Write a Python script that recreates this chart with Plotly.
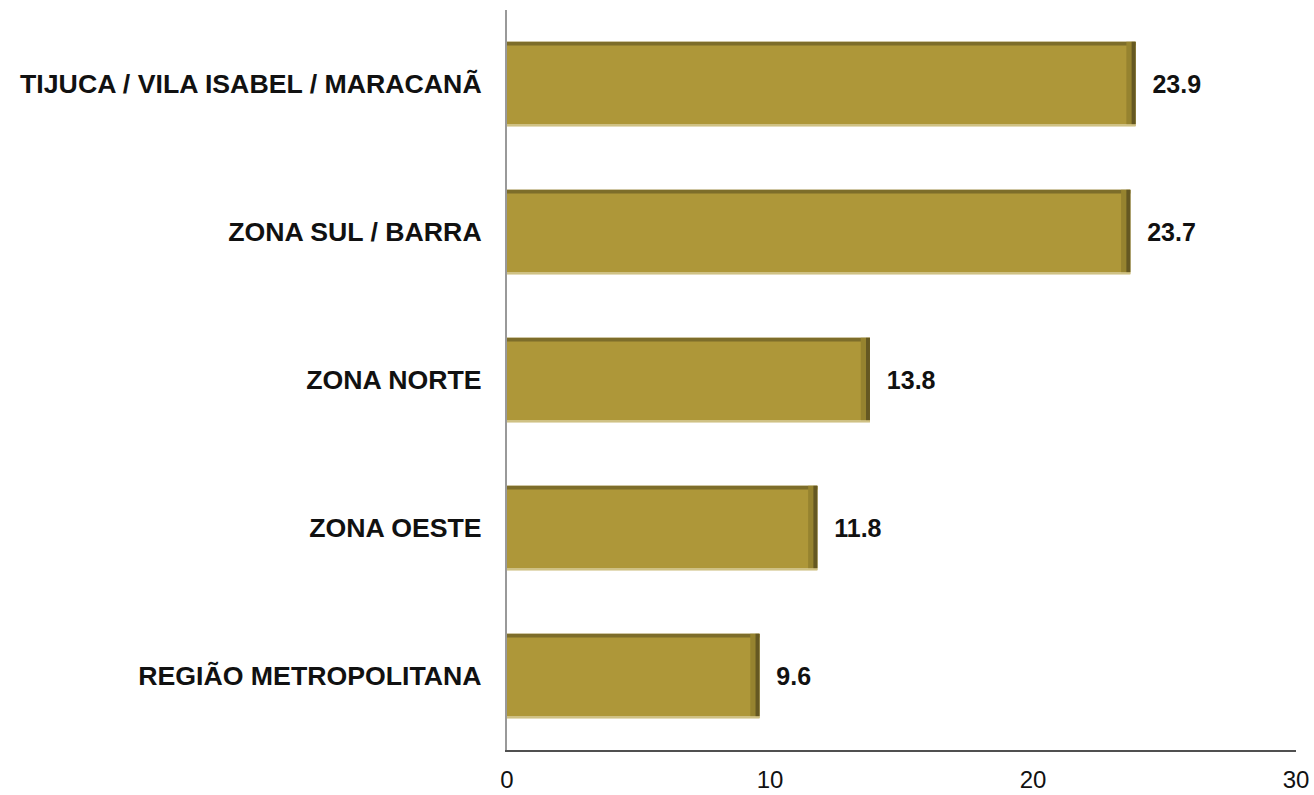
import plotly.graph_objects as go

categories = ["TIJUCA / VILA ISABEL / MARACANÃ", "ZONA SUL / BARRA", "ZONA NORTE", "ZONA OESTE", "REGIÃO METROPOLITANA"]
values = [23.9, 23.7, 13.8, 11.8, 9.6]
x_ticks = [0, 10, 20, 30]

BAR_W = 0.57
fig = go.Figure()
# main bars
fig.add_trace(go.Bar(
    y=categories, x=values, orientation="h",
    marker=dict(color="#ae9739", line=dict(width=0)),
    width=BAR_W,
    text=["  " + f"{v:.1f}" for v in values],
    textposition="outside",
    textfont=dict(family="Liberation Sans, Arial", size=25, color="#111111", weight="bold"),
    cliponaxis=False, hoverinfo="skip",
))
# shading: top dark band
fig.add_trace(go.Bar(
    y=categories, x=values, orientation="h",
    marker=dict(color="#7d6d2a", line=dict(width=0)),
    width=0.025, offset=-BAR_W / 2, hoverinfo="skip",
))
# shading: bottom light edge
fig.add_trace(go.Bar(
    y=categories, x=values, orientation="h",
    marker=dict(color="#cfc184", line=dict(width=0)),
    width=0.014, offset=BAR_W / 2 - 0.014, hoverinfo="skip",
))
# shading: right dark edge (two layers)
fig.add_trace(go.Bar(
    y=categories, x=[0.35] * len(values), base=[v - 0.35 for v in values], orientation="h",
    marker=dict(color="#96832f", line=dict(width=0)),
    width=BAR_W - 0.014, offset=-BAR_W / 2, hoverinfo="skip",
))
fig.add_trace(go.Bar(
    y=categories, x=[0.15] * len(values), base=[v - 0.15 for v in values], orientation="h",
    marker=dict(color="#655822", line=dict(width=0)),
    width=BAR_W - 0.014, offset=-BAR_W / 2, hoverinfo="skip",
))

fig.update_layout(
    width=1314, height=795,
    margin=dict(l=507, r=18, t=10, b=45),
    barmode="overlay",
    paper_bgcolor="white", plot_bgcolor="white",
    showlegend=False,
    font=dict(family="Liberation Sans, Arial", color="#111111"),
    xaxis=dict(range=[0, 30], tickvals=x_ticks, showgrid=False, zeroline=False,
               showline=True, linecolor="#505050", linewidth=2, automargin=False,
               tickfont=dict(size=24), ticks="", ticklabelstandoff=7,
               ticklabeloverflow="allow"),
    yaxis=dict(autorange="reversed", showgrid=False, zeroline=False, automargin=False,
               showline=True, linecolor="#999999", linewidth=2,
               tickfont=dict(size=26.7, weight="bold"), ticks="", ticklabelstandoff=18),
)

fig.write_html("out.html", config={"displayModeBar": False},
               post_script="document.body.style.margin='0';document.body.style.overflow='hidden';")
